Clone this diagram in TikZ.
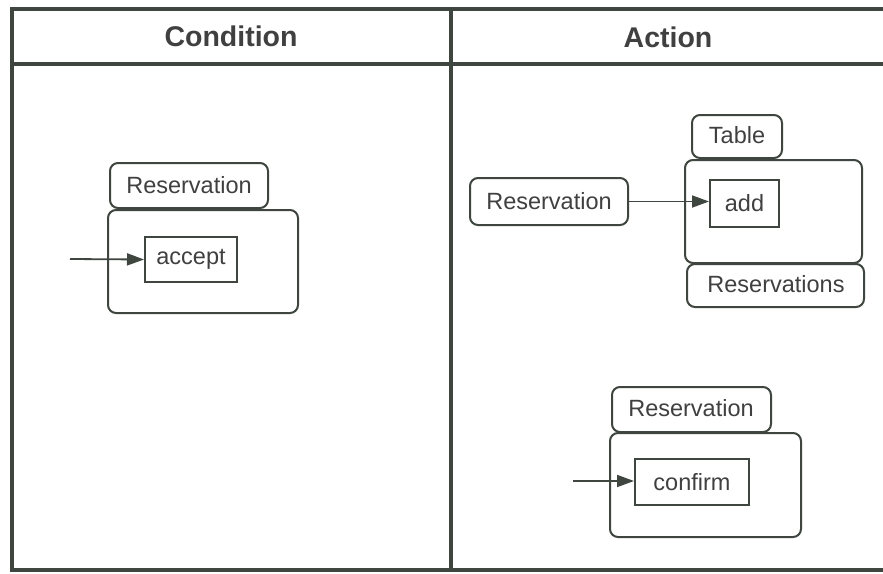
\documentclass[tikz,border=0pt]{standalone}
\usepackage{fontspec}
\setmainfont{Liberation Sans}
\usetikzlibrary{arrows.meta}
\definecolor{ink}{HTML}{3E463F}
\definecolor{txt}{HTML}{404040}
\begin{document}
\begin{tikzpicture}[x=1pt,y=-1pt,
  frame/.style={draw=ink,line width=3.8pt},
  rbox/.style={draw=ink,line width=2pt,rounded corners=8pt},
  sbox/.style={draw=ink,line width=2pt},
  lbl/.style={text=txt,font=\fontsize{23.5}{26}\selectfont,inner sep=0pt},
  head/.style={text=txt,font=\bfseries\fontsize{28.5}{32}\selectfont,inner sep=0pt},
  flow/.style={draw=ink,line width=1.8pt,-{Triangle[length=17pt,width=12pt]}}]
\useasboundingbox (0,0) rectangle (883,573);
\fill[white] (0,0) rectangle (883,573);

% table frame
\draw[frame] (890,9) -- (12,9) -- (12,570) -- (890,570);
\draw[frame] (12,64) -- (890,64);
\draw[frame] (451,9) -- (451,570);
\node[head] (hcond) at (231,36) {Condition};
\node[head] (hact) at (668,37) {Action};

% condition: Reservation.accept
\draw[rbox] (110,163) rectangle (268,208);
\node[lbl] (cres) at (189,185) {Reservation};
\draw[rbox] (108,210) rectangle (298,313);
\node[sbox,minimum width=92pt,minimum height=45pt,inner sep=0pt] (accept) at (191,259.5) {};
\node[lbl] at (accept) {accept};
\coordinate (cin) at (70,259);
\draw[flow] (cin) -- (accept.west);

% action: Table(Reservations).add
\node[rbox,minimum width=158pt,minimum height=47pt,inner sep=0pt] (ares) at (549,201.5) {};
\node[lbl] at (ares) {Reservation};
\draw[rbox] (692,115) rectangle (782,158);
\node[lbl] (tbl) at (737,135.5) {Table};
\draw[rbox] (685,160) rectangle (862,263);
\node[sbox,minimum width=69pt,minimum height=47pt,inner sep=0pt] (add) at (744.5,203.5) {};
\node[lbl] at (add) {add};
\draw[rbox] (687,264) rectangle (864,307);
\node[lbl] (tres) at (776,284) {Reservations};
\draw[flow] (ares.east) -- (ares.east -| add.west);

% action: Reservation.confirm
\draw[rbox] (612,387) rectangle (771,432);
\node[lbl] (bres) at (691,408.5) {Reservation};
\draw[rbox] (610,433) rectangle (801,537);
\node[sbox,minimum width=114pt,minimum height=46pt,inner sep=0pt] (confirm) at (692,482) {};
\node[lbl] at (confirm) {confirm};
\coordinate (bin) at (573,481);
\draw[flow] (bin) -- (bin -| confirm.west);
\end{tikzpicture}
\end{document}
